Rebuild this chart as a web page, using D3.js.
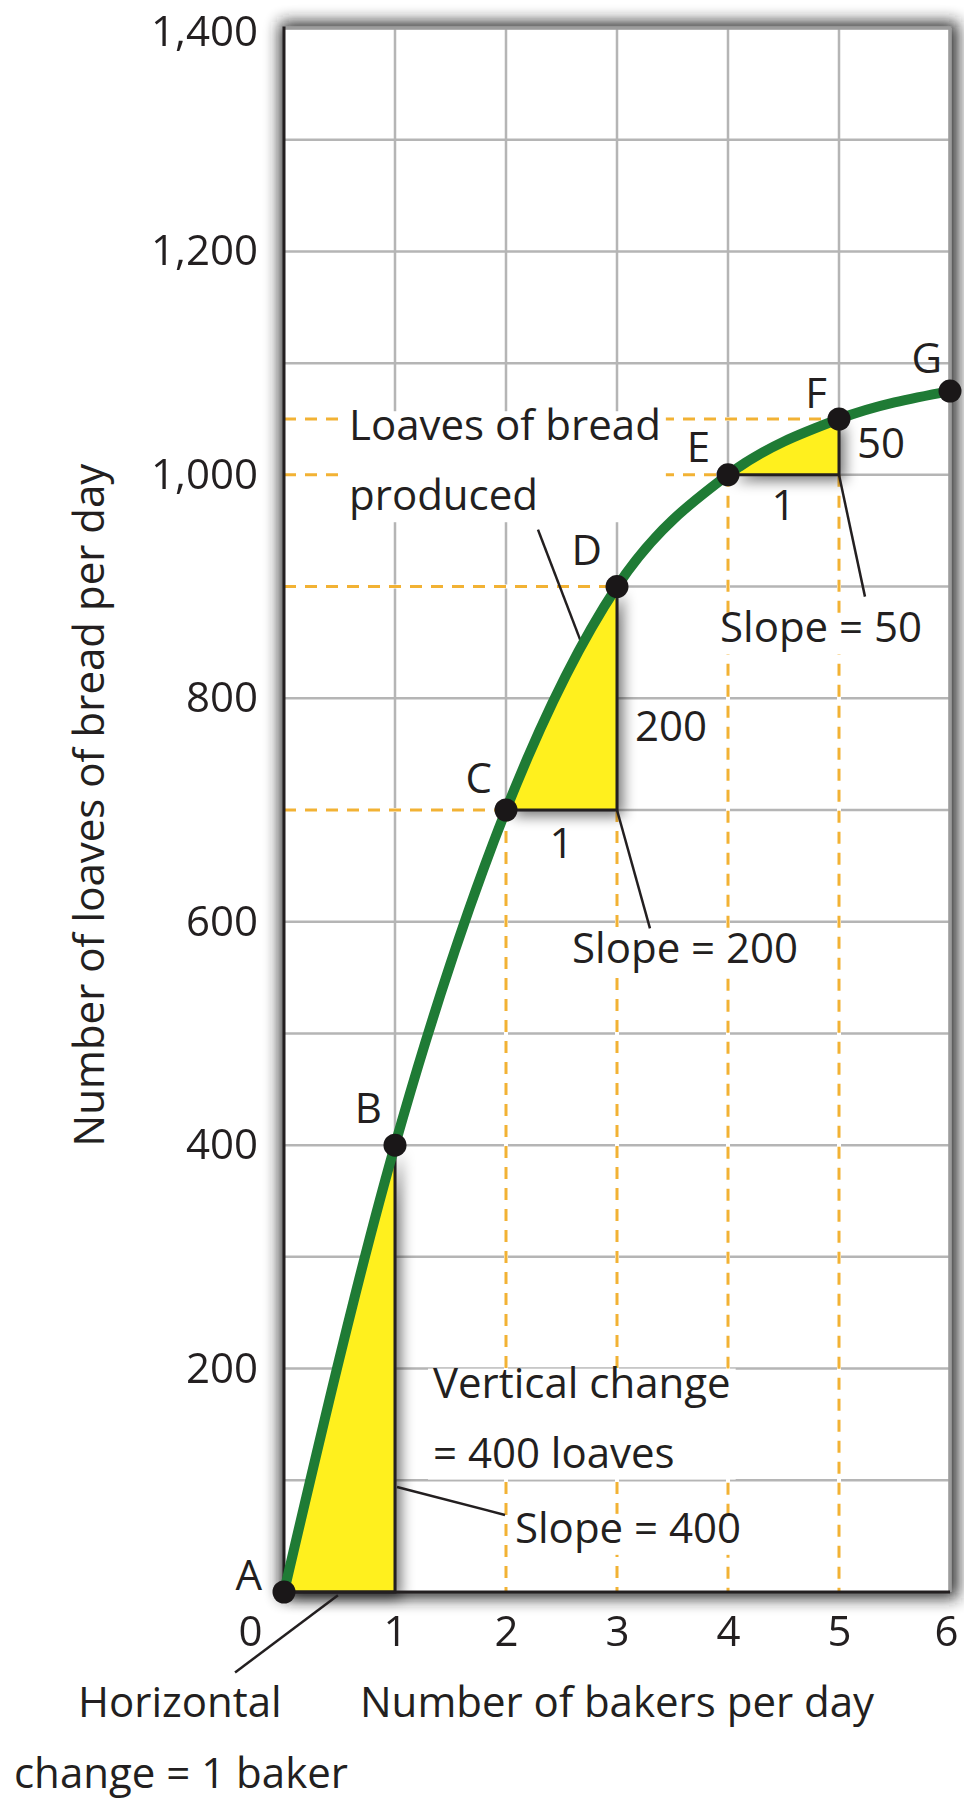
<!DOCTYPE html>
<html>
<head>
<meta charset="utf-8">
<script src="https://cdn.jsdelivr.net/npm/d3@7"></script>
<style>
  html, body { margin: 0; padding: 0; background: #ffffff; }
  svg { display: block; }
  text { font-family: "Open Sans", "Liberation Sans", sans-serif; fill: #231f20; }
</style>
</head>
<body>
<svg id="chart" width="964" height="1801"></svg>
<script>
// ---------------- DATA ----------------
const bakers      = [0, 1, 2, 3, 4, 5, 6];
const loaves      = [0, 400, 700, 900, 1000, 1050, 1075];
const pointNames  = ["A", "B", "C", "D", "E", "F", "G"];
const xTickValues = [0, 1, 2, 3, 4, 5, 6];
const yTickValues = [0, 200, 400, 600, 800, 1000, 1200, 1400];
const yGridValues = [100, 200, 300, 400, 500, 600, 700, 800, 900, 1000, 1100, 1200, 1300, 1400];
const xGridValues = [1, 2, 3, 4, 5, 6];
// slope triangles: index of start point and end point (one baker apart)
const slopeFrom   = [0, 2, 4];
const slopeTo     = [1, 3, 5];
const riseLabels  = ["", "200", "50"];
const runLabels   = ["", "1", "1"];
// dashed reference lines go to these points
const dashedPoints = [2, 3, 4, 5];
const xAxisTitle = "Number of bakers per day";
const yAxisTitle = "Number of loaves of bread per day";

// ---------------- LAYOUT ----------------
const svg = d3.select("#chart");
const X0 = 284, X1 = 950, Y0 = 1592, Y1 = 28;
const x = d3.scaleLinear().domain([0, 6]).range([X0, X1]);
const y = d3.scaleLinear().domain([0, 1400]).range([Y0, Y1]);
const FS = 42;

const defs = svg.append("defs");
const fShadow = defs.append("filter").attr("id", "frameShadow")
  .attr("x", "-10%").attr("y", "-10%").attr("width", "120%").attr("height", "120%");
fShadow.append("feGaussianBlur").attr("stdDeviation", 8);
const tBlur = defs.append("filter").attr("id", "triBlur")
  .attr("filterUnits", "userSpaceOnUse").attr("x", 0).attr("y", 0).attr("width", 964).attr("height", 1801);
tBlur.append("feGaussianBlur").attr("stdDeviation", 7);

// frame shadow + white plot
svg.append("rect").attr("x", X0 - 4).attr("y", Y1 - 6).attr("width", X1 - X0 + 12).attr("height", Y0 - Y1 + 12)
  .attr("fill", "#222").attr("opacity", 0.95).attr("filter", "url(#frameShadow)");
svg.append("rect").attr("x", X0).attr("y", Y1).attr("width", X1 - X0).attr("height", Y0 - Y1)
  .attr("fill", "#ffffff");

// grid
const grid = svg.append("g").attr("stroke", "#b5b5b5").attr("stroke-width", 2.5);
grid.selectAll("line.h").data(yGridValues).join("line")
  .attr("x1", X0).attr("x2", X1).attr("y1", d => y(d)).attr("y2", d => y(d));
grid.selectAll("line.v").data(xGridValues).join("line")
  .attr("y1", Y0).attr("y2", Y1).attr("x1", d => x(d)).attr("x2", d => x(d));
// top/right frame
svg.append("line").attr("x1", X0).attr("x2", X1 + 1.5).attr("y1", Y1).attr("y2", Y1)
  .attr("stroke", "#9c9c9c").attr("stroke-width", 3.5);
svg.append("line").attr("x1", X1).attr("x2", X1).attr("y1", Y1).attr("y2", Y0)
  .attr("stroke", "#9c9c9c").attr("stroke-width", 3.5);

// dashed reference lines
const dashSegs = [];
dashedPoints.forEach(i => {
  dashSegs.push({x1: 0, y1: loaves[i], x2: bakers[i], y2: loaves[i]});
});
dashedPoints.forEach(i => {
  const top = (i === 3) ? loaves[2] : (i === 5 ? loaves[4] : loaves[i]);
  dashSegs.push({x1: bakers[i], y1: top, x2: bakers[i], y2: 0});
});
const dg = svg.append("g");
dg.selectAll("line.u").data(dashSegs).join("line")
  .attr("x1", d => x(d.x1)).attr("x2", d => x(d.x2)).attr("y1", d => y(d.y1)).attr("y2", d => y(d.y2))
  .attr("stroke", "#ffffff").attr("stroke-width", 4);
dg.selectAll("line.d").data(dashSegs).join("line")
  .attr("x1", d => x(d.x1)).attr("x2", d => x(d.x2)).attr("y1", d => y(d.y1)).attr("y2", d => y(d.y2))
  .attr("stroke", "#f2b234").attr("stroke-width", 3).attr("stroke-dasharray", "12 9");

// text blocks with white boxes (annotation positions in data units)
const boxG = svg.append("g");
const textG = svg.append("g").attr("font-size", FS);
function block(lines, bx, by, lh) {
  const t = textG.append("text").attr("x", x(bx)).attr("y", y(by));
  lines.forEach((s, k) => t.append("tspan").attr("x", x(bx)).attr("dy", k === 0 ? 0 : lh).text(s));
  const bb = t.node().getBBox();
  const base = y(by);
  boxG.append("rect").attr("x", bb.x - 5).attr("y", base - 29)
    .attr("width", bb.width + 10).attr("height", (lines.length - 1) * lh + 29 + 12)
    .attr("fill", "#ffffff");
  return t;
}
block(["Loaves of bread", "produced"], 0.586, 1031, 70);
block(["Vertical change", "= 400 loaves"], 1.342, 174, 70);
block(["Slope = 400"], 2.081, 44, 70);
block(["Slope = 200"], 2.595, 563, 70);
block(["Slope = 50"], 3.928, 850, 70);

// slope triangles (shadow copy + yellow fill)
const line = d3.line().x((d, i) => x(bakers[i])).y(d => y(d)).curve(d3.curveMonotoneX);
const shadowG = svg.append("g").attr("filter", "url(#triBlur)").attr("opacity", 0.55);
const triG = svg.append("g");
function triShape(target, a, b, k, fill, dx) {
  if (k === 0) {
    target.append("path")
      .attr("d", `M${x(bakers[a])},${y(loaves[a])}L${x(bakers[b])},${y(loaves[a])}L${x(bakers[b])},${y(loaves[b])}Z`)
      .attr("fill", fill).attr("transform", `translate(${dx},${dx})`);
  } else {
    const cid = "clipTri" + k + (dx ? "s" : "");
    defs.append("clipPath").attr("id", cid).append("rect")
      .attr("x", x(bakers[a])).attr("width", x(bakers[b]) - x(bakers[a]))
      .attr("y", y(loaves[b]) - 20).attr("height", y(loaves[a]) - y(loaves[b]) + 20);
    const area = d3.area().x((d, i) => x(bakers[i])).y0(y(loaves[a])).y1(d => y(d)).curve(d3.curveMonotoneX);
    target.append("g").attr("transform", `translate(${dx},${dx})`)
      .append("path").attr("d", area(loaves)).attr("fill", fill).attr("clip-path", `url(#${cid})`);
  }
}
slopeFrom.forEach((a, k) => {
  const b = slopeTo[k];
  triShape(shadowG, a, b, k, "#000", 6);
  triShape(triG, a, b, k, "#fff01e", 0);
});
// triangle outlines
slopeFrom.forEach((a, k) => {
  const b = slopeTo[k];
  triG.append("path")
    .attr("d", `M${x(bakers[a])},${y(loaves[a])}L${x(bakers[b])},${y(loaves[a])}L${x(bakers[b])},${y(loaves[b])}`)
    .attr("fill", "none").attr("stroke", "#231f20").attr("stroke-width", 3);
  if (k === 0) {
    triG.append("line").attr("x1", x(bakers[a])).attr("y1", y(loaves[a]))
      .attr("x2", x(bakers[b])).attr("y2", y(loaves[b]))
      .attr("stroke", "#231f20").attr("stroke-width", 2.5);
  }
  if (riseLabels[k]) {
    textG.append("text").attr("x", x(bakers[b]) + 18)
      .attr("y", k === 1 ? y(762) : y(1015)).text(riseLabels[k]);
    textG.append("text").attr("x", x((bakers[a] + bakers[b]) / 2)).attr("text-anchor", "middle")
      .attr("y", k === 1 ? y(657) : y(960)).text(runLabels[k]);
  }
});

// callout lines
const callouts = [
  [[2.288, 951], [2.685, 848]],
  [[3, 700], [3.297, 594]],
  [[5, 1000], [5.234, 891]],
  [[1.018, 94], [1.991, 69]],
  [[-0.441, -72], [0.486, -3]]
];
svg.append("g").selectAll("line").data(callouts).join("line")
  .attr("x1", d => x(d[0][0])).attr("y1", d => y(d[0][1]))
  .attr("x2", d => x(d[1][0])).attr("y2", d => y(d[1][1]))
  .attr("stroke", "#231f20").attr("stroke-width", 2.5);

// axes lines
svg.append("line").attr("x1", X0).attr("x2", X0).attr("y1", Y1 - 1.5).attr("y2", Y0 + 1.5)
  .attr("stroke", "#231f20").attr("stroke-width", 3);
svg.append("line").attr("x1", X0).attr("x2", X1).attr("y1", Y0).attr("y2", Y0)
  .attr("stroke", "#231f20").attr("stroke-width", 3);

// curve
svg.append("path").attr("d", line(loaves)).attr("fill", "none")
  .attr("stroke", "#1f7b35").attr("stroke-width", 10).attr("stroke-linecap", "round");

// points
svg.append("g").selectAll("circle").data(loaves).join("circle")
  .attr("cx", (d, i) => x(bakers[i])).attr("cy", d => y(d)).attr("r", 11.5).attr("fill", "#1a1718");

// point labels (offsets in px)
const labelDx = [-22, -13, -14, -15, -18, -12, -8];
const labelDy = [-2, -22, -17, -22, -13, -11, -18];
textG.selectAll("text.pl").data(loaves).join("text").attr("class", "pl")
  .attr("x", (d, i) => x(bakers[i]) + labelDx[i]).attr("y", (d, i) => y(d) + labelDy[i])
  .attr("text-anchor", "end").text((d, i) => pointNames[i]);

// y axis tick labels
const yAxis = d3.axisLeft(y).tickValues(yTickValues).tickFormat(d3.format(",")).tickSize(0).tickPadding(26);
const ya = svg.append("g").attr("transform", `translate(${X0},0)`).call(yAxis);
ya.select(".domain").remove();
ya.selectAll("text").attr("font-size", FS).attr("font-family", "'Open Sans', sans-serif").attr("fill", "#231f20");
ya.selectAll(".tick").filter(d => d === 0).remove();
ya.selectAll(".tick").filter(d => d === 1400).select("text").attr("y", 4);

// x axis tick labels
const xAxis = d3.axisBottom(x).tickValues(xTickValues).tickFormat(d3.format("d")).tickSize(0).tickPadding(24);
const xa = svg.append("g").attr("transform", `translate(0,${Y0})`).call(xAxis);
xa.select(".domain").remove();
xa.selectAll("text").attr("font-size", FS).attr("font-family", "'Open Sans', sans-serif").attr("fill", "#231f20");
xa.selectAll(".tick").filter(d => d === 0).select("text").attr("x", -34);
xa.selectAll(".tick").filter(d => d === 6).select("text").attr("x", -4);

// axis titles
textG.append("text").attr("x", 360).attr("y", 1717).text(xAxisTitle);
textG.append("text").attr("transform", "translate(104,805) rotate(-90)").attr("text-anchor", "middle").text(yAxisTitle);
textG.append("text").attr("x", 78).attr("y", 1717).text("Horizontal");
textG.append("text").attr("x", 14).attr("y", 1788).text("change = 1 baker");
</script>
</body>
</html>
